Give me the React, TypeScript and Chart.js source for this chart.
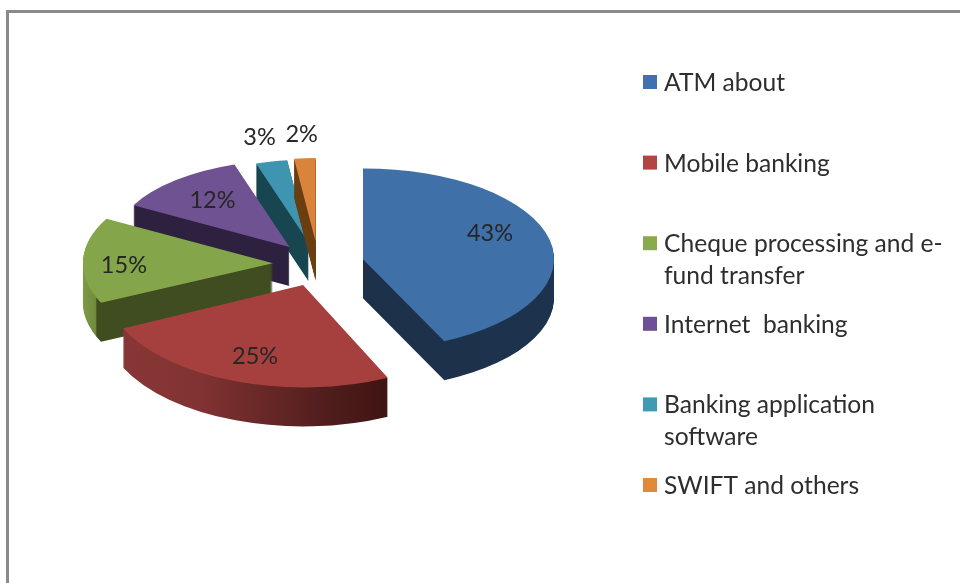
import React, { useEffect, useRef } from "react";
import { Chart, registerables } from "chart.js";

Chart.register(...registerables);

// Data
const categories = [
  "ATM about",
  "Mobile banking",
  "Cheque processing and e-\nfund transfer",
  "Internet  banking",
  "Banking application\nsoftware",
  "SWIFT and others",
];
const shares = [43, 25, 15, 12, 3, 2];

// Styles
const topColors = ["#3f70a8", "#a5403e", "#85a54a", "#6f5291", "#3f95b0", "#d9843a"];
const swatchColors = ["#3f72ae", "#b24543", "#8aab4c", "#6f4f97", "#3f9ab3", "#e08a3c"];
const wallStops: [number, string][][] = [
  [[0, "#1b2f48"], [1, "#1d324c"]],
  [[0, "#8a3736"], [0.24, "#803332"], [0.37, "#6d2a29"], [0.57, "#4f1d1c"], [0.71, "#3f1412"], [1, "#3f1412"]],
  [[0, "#7d9a45"], [0.033, "#718c3e"], [0.037, "#3f4d20"], [1, "#3f4d20"]],
  [[0, "#2e2140"], [1, "#2e2140"]],
  [[0, "#174550"], [1, "#174550"]],
  [[0, "#6b3e12"], [1, "#6b3e12"]],
];

// Layout of the tilted exploded pie
const TILT = 0.487;
const DEPTH = 39;
const EXPLODE = 45.6;
const sliceRadii = [191, 199, 190, 178, 170, 172];
const sliceTilts = [0.475, 0.515, 0.487, 0.487, 0.487, 0.487];
const drawOrder = [4, 5, 3, 2, 0, 1];
const labelShifts: [number, number][] = [
  [127, -26],
  [-48, 72],
  [-149, 2],
  [-77, -46],
  [-49, -105],
  [-14, -107],
];
const legendLeft = 643;
const legendTextLeft = 664;
const legendFirstCenter = 83;
const legendStep = 80.6;
const legendLineGap = 31.5;
const FONT = "Lato, 'Open Sans', sans-serif";

const midAngle = (a: any) => (a.startAngle + a.endAngle) / 2;

const tiltedPie = {
  id: "tiltedPie",
  afterDatasetsUpdate(chart: any) {
    chart.getDatasetMeta(0).data.forEach((arc: any, i: number) => {
      arc.outerRadius = sliceRadii[i];
      arc.innerRadius = 0;
    });
  },
  beforeDraw(chart: any) {
    const ctx = chart.ctx;
    ctx.save();
    ctx.strokeStyle = "#8a8a8a";
    ctx.lineWidth = 3;
    ctx.strokeRect(7.5, 11.5, 1400, 1000);
    ctx.restore();
  },
  beforeDatasetsDraw(chart: any) {
    const ctx = chart.ctx;
    const arcs = chart.getDatasetMeta(0).data;
    const paint = (arc: any, i: number, lift: number, fill: any) => {
      const mid = midAngle(arc);
      ctx.save();
      ctx.translate(arc.x + Math.cos(mid) * EXPLODE, arc.y + Math.sin(mid) * EXPLODE * TILT + lift);
      ctx.scale(1, sliceTilts[i]);
      ctx.translate(-arc.x, -arc.y);
      const saved = arc.options;
      arc.options = { ...saved, backgroundColor: fill, borderWidth: 0 };
      arc.draw(ctx);
      arc.options = saved;
      ctx.restore();
    };
    drawOrder.forEach((i) => {
      const arc = arcs[i];
      const r = sliceRadii[i];
      const wall = ctx.createLinearGradient(arc.x - r, 0, arc.x + r, 0);
      wallStops[i].forEach(([p, c]) => wall.addColorStop(p, c));
      for (let d = DEPTH; d >= 1; d--) paint(arc, i, d, wall);
      paint(arc, i, 0, topColors[i]);
    });
    return false;
  },
  afterDraw(chart: any) {
    const ctx = chart.ctx;
    const arcs = chart.getDatasetMeta(0).data;
    ctx.save();
    ctx.textBaseline = "middle";
    ctx.fillStyle = "#262626";
    ctx.textAlign = "center";
    ctx.font = `23.5px ${FONT}`;
    arcs.forEach((arc: any, i: number) => {
      const mid = midAngle(arc);
      const tipX = arc.x + Math.cos(mid) * EXPLODE;
      const tipY = arc.y + Math.sin(mid) * EXPLODE * TILT;
      ctx.fillText(`${shares[i]}%`, tipX + labelShifts[i][0], tipY + labelShifts[i][1]);
    });
    ctx.textAlign = "left";
    ctx.font = `24.6px ${FONT}`;
    ctx.fillStyle = "#2e2e2e";
    categories.forEach((name, i) => {
      const y = legendFirstCenter + legendStep * i;
      ctx.save();
      ctx.fillStyle = swatchColors[i];
      ctx.fillRect(legendLeft, y - 8, 14, 14);
      ctx.restore();
      name.split("\n").forEach((line, j) => {
        ctx.fillText(line, legendTextLeft, y + j * legendLineGap);
      });
    });
    ctx.restore();
  },
};

export default function App() {
  const ref = useRef<HTMLCanvasElement>(null);
  useEffect(() => {
    document.body.style.margin = "0";
    document.body.style.background = "#ffffff";
    const chart = new Chart(ref.current as HTMLCanvasElement, {
      type: "pie",
      data: {
        labels: categories,
        datasets: [{ data: shares, backgroundColor: topColors, borderWidth: 0 }],
      },
      options: {
        animation: false,
        responsive: false,
        layout: { padding: { right: 323, bottom: 55 } },
        plugins: { legend: { display: false }, tooltip: { enabled: false } },
      },
      plugins: [tiltedPie],
    } as any);
    return () => chart.destroy();
  }, []);
  return (
    <canvas
      ref={ref}
      width={960}
      height={583}
      style={{ display: "block", width: 960, height: 583, filter: "blur(0.6px)" }}
    />
  );
}
